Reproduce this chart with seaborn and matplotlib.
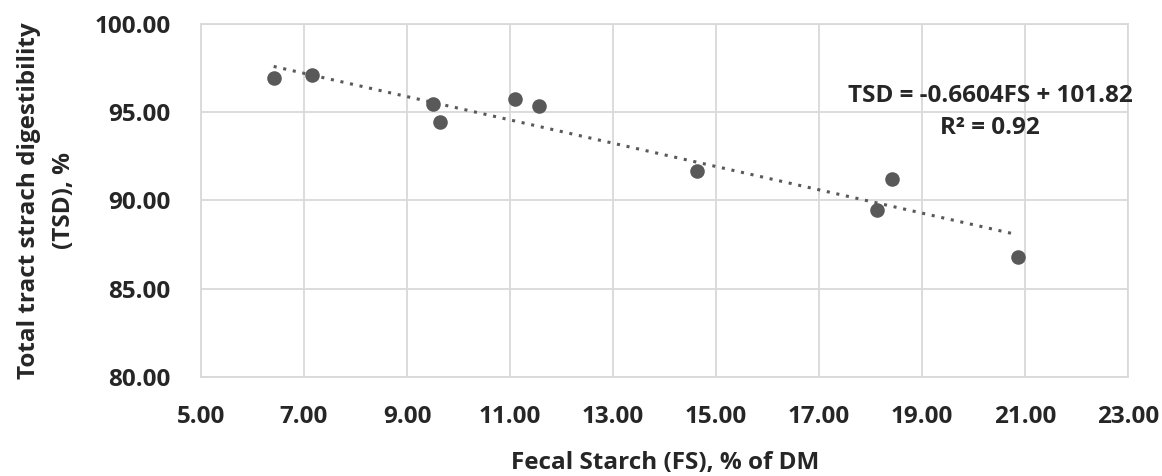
"""Fecal starch vs total tract starch digestibility"""

import numpy as np
import pandas as pd
import matplotlib
matplotlib.use("Agg")
import matplotlib.pyplot as plt
import seaborn as sns

# data
fecal_starch = [6.41, 7.15, 9.50, 9.63, 11.09, 11.56, 14.63, 18.12, 18.41, 20.85]
tsd = [96.92, 97.11, 95.45, 94.42, 95.74, 95.32, 91.66, 89.47, 91.21, 86.82]
x_ticks = [5, 7, 9, 11, 13, 15, 17, 19, 21, 23]
y_ticks = [80, 85, 90, 95, 100]
eq_text = "TSD = -0.6604FS + 101.82\nR² = 0.92"

df = pd.DataFrame({"FS": fecal_starch, "TSD": tsd})

sns.set_style("white")
plt.rcParams["font.family"] = ["Open Sans", "DejaVu Sans"]

fig = plt.figure(figsize=(11.62, 4.76), dpi=100)
ax = fig.add_axes([0.173, 0.208, 0.798, 0.742])

grey = "#595959"
sns.regplot(data=df, x="FS", y="TSD", ax=ax, ci=None,
            scatter_kws={"s": 110, "color": grey, "alpha": 1, "zorder": 3, "linewidths": 0},
            line_kws={"color": grey, "linestyle": (0, (1, 2.2)), "linewidth": 2.2, "zorder": 2})

ax.set_xlim(5, 23)
ax.set_ylim(80, 100)
ax.set_xticks(x_ticks)
ax.set_yticks(y_ticks)
ax.set_xticklabels([f"{v:.2f}" for v in x_ticks], fontsize=17.5, fontweight="bold")
ax.set_yticklabels([f"{v:.2f}" for v in y_ticks], fontsize=17.5, fontweight="bold")
ax.tick_params(axis="x", length=0, pad=20)
ax.tick_params(axis="y", length=0, pad=22)

ax.grid(True, color="#d9d9d9", linewidth=1.3)
ax.set_axisbelow(True)
for s in ax.spines.values():
    s.set_color("#d9d9d9")
    s.set_linewidth(1.3)

ax.set_xlabel("Fecal Starch (FS), % of DM", fontsize=17.5, fontweight="bold", labelpad=16)
ax.set_ylabel("Total tract strach digestibility\n(TSD), %", fontsize=17.5, fontweight="bold",
              labelpad=13, linespacing=1.6)

ax.text(20.32, 95.0, eq_text, fontsize=17.5, fontweight="bold", ha="center", va="center",
        multialignment="center", linespacing=1.45, clip_on=False)

fig.savefig("out.png", dpi=100)
